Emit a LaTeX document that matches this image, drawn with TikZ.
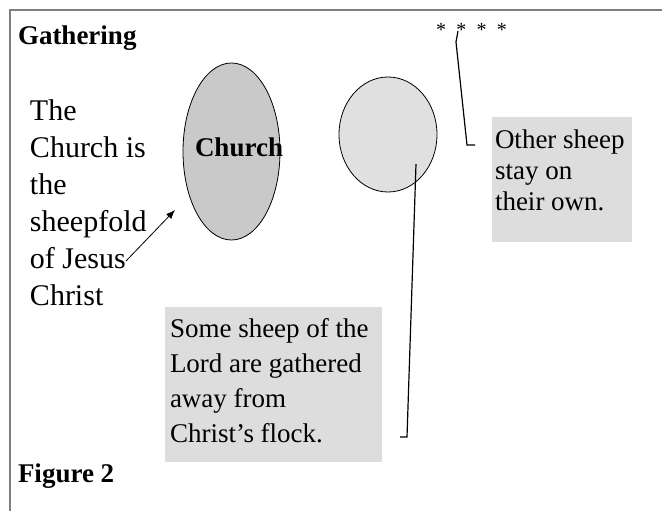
\documentclass[tikz,border=0pt]{standalone}
\usepackage{fontspec}
\setmainfont{Liberation Serif}
\usetikzlibrary{shapes.geometric,arrows.meta}

\definecolor{framegray}{HTML}{7F7F7F}
\definecolor{foldgray}{HTML}{C9C9C9}
\definecolor{flockgray}{HTML}{E0E0E0}
\definecolor{notegray}{HTML}{DDDDDD}

\tikzset{
  plain/.style={inner sep=0pt, outer sep=0pt},
  heading/.style={plain, anchor=base west, font=\fontsize{27}{32}\bfseries\selectfont},
  bodytext/.style={plain, anchor=north west, align=left, font=\fontsize{30}{37}\selectfont},
  notetext/.style={plain, anchor=north west, align=left, font=\fontsize{27}{35}\selectfont},
  notebox/.style={plain, anchor=north west, fill=notegray, draw=none},
  fold/.style={plain, ellipse, draw=black, line width=0.8pt},
  leader/.style={draw=black, line width=1.2pt},
}

\begin{document}
\begin{tikzpicture}[x=1pt, y=-1pt]
  \useasboundingbox (0,0) rectangle (662,511);
  \fill[white] (0,0) rectangle (662,511);

  % frame: top and left edges only
  \draw[framegray, line width=2pt] (10,511) -- (10,10) -- (662,10);

  % headings
  \node[heading] (title) at (18,45) {Gathering};
  \node[heading] (figlabel) at (18,482) {Figure 2};

  % left caption
  \node[bodytext] (caption) at (30,99.5) {The\\Church is\\the\\sheepfold\\of Jesus\\Christ};

  % the fold and the straying flock
  \node[fold, fill=foldgray, minimum width=97, minimum height=177] (church) at (231.5,151.5) {};
  \node[heading, font=\fontsize{27}{32}\bfseries\selectfont] (churchlabel) at (195,157) {Church};
  \node[fold, fill=flockgray, minimum width=98, minimum height=115] (flock) at (388,134.5) {};

  % note boxes
  \node[notebox, minimum width=140, minimum height=125] (otherbox) at (492,117) {};
  \node[notetext, font=\fontsize{27}{31}\selectfont] (othertext) at (495,129.6) {Other sheep\\stay on\\their own.};
  \node[notebox, minimum width=217, minimum height=155] (somebox) at (165,307) {};
  \node[notetext] (sometext) at (170,318.3) {Some sheep of the\\Lord are gathered\\away from\\Christ’s flock.};

  % scattered sheep
  \node[plain, anchor=base west, font=\fontsize{20}{24}\selectfont] (stars) at (436,37) {{\spaceskip=10.3pt * * * *}};

  % connectors
  \coordinate (arrtail) at (126,261);
  \coordinate (arrtip) at (175,210);
  \draw[line width=0.8pt, -{Latex[length=9pt,width=7pt]}] (arrtail) -- (arrtip);

  \coordinate (starfoot) at (458,31);
  \coordinate (starbend) at (456,42);
  \coordinate (starknee) at (467,145);
  \coordinate (starend) at (475,145);
  \draw[leader] (starfoot) -- (starbend) -- (starknee) -- (starend);

  \coordinate (flockstart) at (416,164);
  \coordinate (flockknee) at (407,437);
  \coordinate (flockend) at (400,437);
  \draw[leader] (flockstart) -- (flockknee) -- (flockend);
\end{tikzpicture}
\end{document}
